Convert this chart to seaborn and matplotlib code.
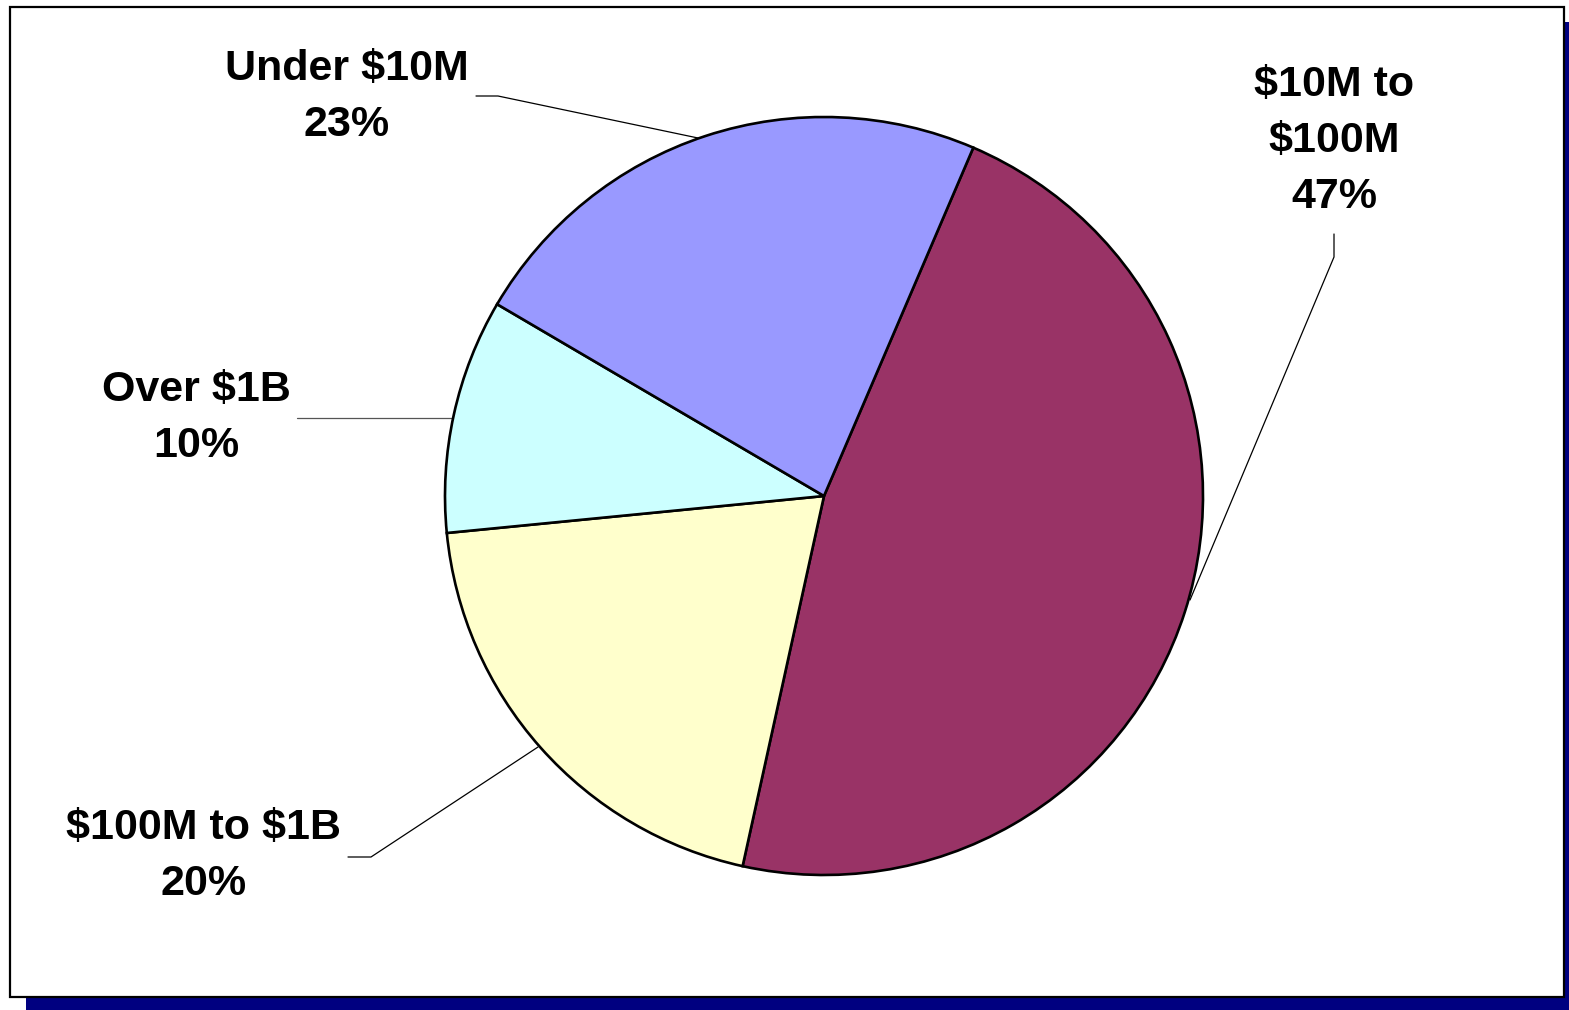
import matplotlib
matplotlib.use("Agg")
import matplotlib.pyplot as plt
from matplotlib.patches import Rectangle
import seaborn as sns

# Revenue bands and their shares (%), in drawing order (clockwise)
categories = ["$10M to\n$100M", "$100M to $1B", "Over $1B", "Under $10M"]
shares = [47, 20, 10, 23]
colors = ["#993366", "#FFFFCC", "#CCFFFF", "#9999FF"]

sns.set_theme(style="white")
plt.rcParams["font.family"] = ["Liberation Sans", "DejaVu Sans"]
plt.rcParams["text.parse_math"] = False

W, H = 1569, 1010
fig = plt.figure(figsize=(W / 100, H / 100), dpi=100)
ax = fig.add_axes([0, 0, 1, 1])


def Y(py):
    return H - py


# framed panel with a drop shadow
ax.add_patch(Rectangle((26, Y(1012)), W, 1012 - 22, facecolor="#000080",
                       edgecolor="none", zorder=0))
ax.add_patch(Rectangle((10, Y(997)), 1564 - 10, 997 - 7, facecolor="white",
                       edgecolor="black", linewidth=1.6, zorder=1))

cx, cy, r = 824, Y(496), 379
wedges, _ = ax.pie(shares, colors=colors, startangle=66.8, counterclock=False,
                   center=(cx, cy), radius=r, frame=True,
                   wedgeprops=dict(edgecolor="black", linewidth=1.9, zorder=3))
ax.set_xlim(0, W)
ax.set_ylim(0, H)
ax.set_aspect("equal")
ax.axis("off")

# data labels with leader lines
labels = [
    (f"{categories[0]}\n{shares[0]}%", 1334, 141,
     [(1334, 234), (1334, 257), (1190, 600)], "black"),
    (f"{categories[1]}\n{shares[1]}%", 204, 856,
     [(348, 857), (371, 857), (538, 747)], "black"),
    (f"{categories[2]}\n{shares[2]}%", 196, 418,
     [(297, 418), (453, 418)], "#555555"),
    (f"{categories[3]}\n{shares[3]}%", 347, 97,
     [(476, 96), (498, 96), (698, 138)], "black"),
]
for text, tx, ty, pts, lc in labels:
    ax.text(tx, Y(ty), text, ha="center", va="center", fontsize=31,
            fontweight="bold", color="black", linespacing=1.52, zorder=5)
    xs = [p[0] for p in pts]
    ys = [Y(p[1]) for p in pts]
    ax.plot(xs, ys, color=lc, linewidth=0.9, zorder=2)

fig.savefig("out.png", dpi=100)
